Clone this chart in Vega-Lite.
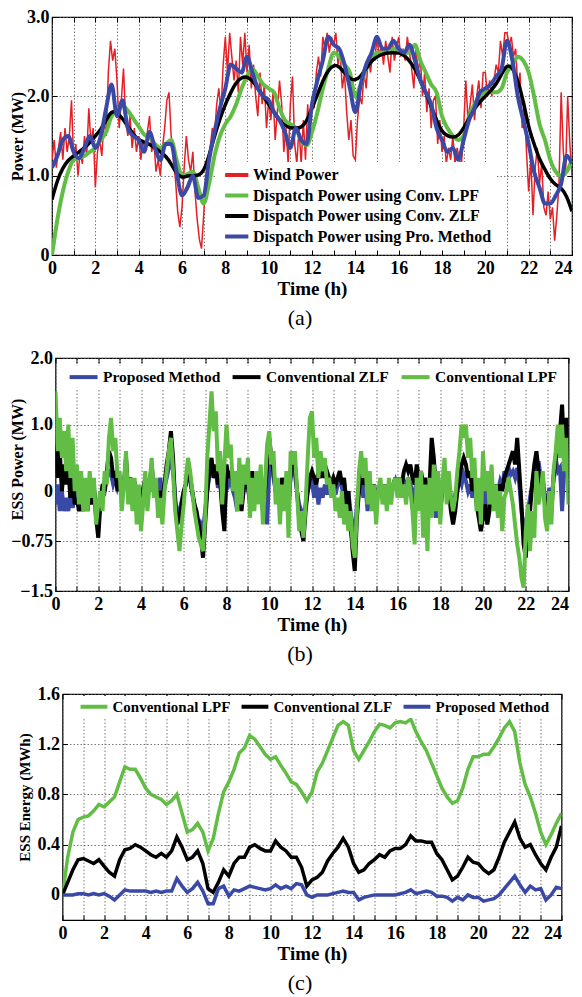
{
"$schema": "https://vega.github.io/schema/vega-lite/v6.json",
"background": "white",
"padding": {"left": 8, "right": 0, "top": 7, "bottom": 0},
"spacing": 103,
"center": true,
"bounds": "flush",
"resolve": {"scale": {"color": "independent"}, "legend": {"color": "independent"}},
"config": {
 "font": "Liberation Serif",
 "view": {"stroke": "#000", "strokeWidth": 1.2},
 "axis": {"labelFont": "Liberation Serif", "labelFontWeight": "bold", "labelFontSize": 18, "labelColor": "#000", "titleFont": "Liberation Serif", "titleFontWeight": "bold", "titleColor": "#000", "titleFontSize": 19, "domain": false, "ticks": true, "tickColor": "#000", "tickSize": -5, "tickWidth": 1, "gridColor": "#555", "gridDash": [1.5, 2], "gridWidth": 0.8, "labelFlush": false, "labelOverlap": false, "titlePadding": 2},
 "axisX": {"labelPadding": 9, "labelAlign": {"expr": "datum.value == 24 ? 'right' : 'center'"}},
 "axisY": {"labelPadding": 7, "titleBaseline": "middle"},
 "legend": {"labelFont": "Liberation Serif", "labelFontWeight": "bold", "labelColor": "#000", "symbolStrokeWidth": 4, "title": null, "labelLimit": 500},
 "title": {"font": "Liberation Serif", "fontSize": 22, "fontWeight": "normal", "color": "#000"}
},
"datasets": {
"aw": [
{"t":0,"v":1.2},{"t":0.1,"v":1.45},{"t":0.2,"v":1.1},{"t":0.3,"v":1.35},{"t":0.4,"v":1.55},{"t":0.5,"v":1.2},{"t":0.6,"v":1.6},{"t":0.7,"v":1.3},{"t":0.8,"v":1.5},{"t":0.9,"v":1.95},
{"t":1,"v":1.2},{"t":1.1,"v":1.4},{"t":1.2,"v":1.0},{"t":1.3,"v":1.3},{"t":1.4,"v":1.15},{"t":1.5,"v":1.5},{"t":1.6,"v":1.25},{"t":1.7,"v":1.85},{"t":1.8,"v":1.4},{"t":1.9,"v":1.6},
{"t":2,"v":0.85},{"t":2.1,"v":1.3},{"t":2.2,"v":1.45},{"t":2.3,"v":1.25},{"t":2.4,"v":1.7},{"t":2.5,"v":1.5},{"t":2.6,"v":2.3},{"t":2.7,"v":2.7},{"t":2.8,"v":2.45},{"t":2.9,"v":2.6},
{"t":3,"v":2.2},{"t":3.1,"v":1.6},{"t":3.2,"v":1.95},{"t":3.3,"v":2.35},{"t":3.4,"v":1.7},{"t":3.5,"v":1.5},{"t":3.6,"v":1.75},{"t":3.7,"v":1.35},{"t":3.8,"v":1.6},{"t":3.9,"v":1.3},
{"t":4,"v":1.5},{"t":4.1,"v":1.2},{"t":4.2,"v":1.45},{"t":4.3,"v":1.3},{"t":4.4,"v":1.55},{"t":4.5,"v":1.75},{"t":4.6,"v":1.3},{"t":4.7,"v":1.45},{"t":4.8,"v":1.05},{"t":4.9,"v":1.2},
{"t":5,"v":1.0},{"t":5.1,"v":1.35},{"t":5.2,"v":1.6},{"t":5.3,"v":1.95},{"t":5.4,"v":2.05},{"t":5.5,"v":1.5},{"t":5.6,"v":1.2},{"t":5.7,"v":0.95},{"t":5.8,"v":0.55},{"t":5.9,"v":0.35},
{"t":6,"v":0.6},{"t":6.1,"v":1.1},{"t":6.2,"v":1.5},{"t":6.3,"v":1.2},{"t":6.4,"v":1.05},{"t":6.5,"v":1.3},{"t":6.6,"v":0.8},{"t":6.7,"v":0.45},{"t":6.8,"v":0.2},{"t":6.9,"v":0.08},
{"t":7,"v":0.5},{"t":7.1,"v":0.95},{"t":7.2,"v":1.2},{"t":7.3,"v":1.35},{"t":7.4,"v":1.6},{"t":7.5,"v":1.5},{"t":7.6,"v":1.9},{"t":7.7,"v":2.1},{"t":7.8,"v":1.8},{"t":7.9,"v":2.4},
{"t":8,"v":2.75},{"t":8.1,"v":2.3},{"t":8.2,"v":2.8},{"t":8.3,"v":2.5},{"t":8.4,"v":2.2},{"t":8.5,"v":2.45},{"t":8.6,"v":2.05},{"t":8.7,"v":2.75},{"t":8.8,"v":2.4},{"t":8.9,"v":2.8},
{"t":9,"v":2.3},{"t":9.1,"v":2.65},{"t":9.2,"v":2.1},{"t":9.3,"v":2.4},{"t":9.4,"v":2.0},{"t":9.5,"v":1.75},{"t":9.6,"v":2.3},{"t":9.7,"v":1.9},{"t":9.8,"v":2.15},{"t":9.9,"v":1.6},
{"t":10,"v":1.95},{"t":10.1,"v":1.7},{"t":10.2,"v":2.05},{"t":10.3,"v":1.45},{"t":10.4,"v":1.8},{"t":10.5,"v":2.2},{"t":10.6,"v":1.9},{"t":10.7,"v":1.3},{"t":10.8,"v":1.6},{"t":10.9,"v":1.15},
{"t":11,"v":1.9},{"t":11.1,"v":2.25},{"t":11.2,"v":1.4},{"t":11.3,"v":1.15},{"t":11.4,"v":1.6},{"t":11.5,"v":1.15},{"t":11.6,"v":1.7},{"t":11.7,"v":1.2},{"t":11.8,"v":1.9},{"t":11.9,"v":1.5},
{"t":12,"v":2.0},{"t":12.1,"v":1.85},{"t":12.2,"v":2.3},{"t":12.3,"v":2.5},{"t":12.4,"v":2.25},{"t":12.5,"v":2.75},{"t":12.6,"v":2.6},{"t":12.7,"v":2.8},{"t":12.8,"v":2.55},{"t":12.9,"v":2.75},
{"t":13,"v":2.65},{"t":13.1,"v":2.8},{"t":13.2,"v":2.4},{"t":13.3,"v":2.55},{"t":13.4,"v":2.1},{"t":13.5,"v":2.3},{"t":13.6,"v":1.8},{"t":13.7,"v":1.45},{"t":13.8,"v":1.7},{"t":13.9,"v":1.25},
{"t":14,"v":1.2},{"t":14.1,"v":1.7},{"t":14.2,"v":2.0},{"t":14.3,"v":1.9},{"t":14.4,"v":2.3},{"t":14.5,"v":2.1},{"t":14.6,"v":2.5},{"t":14.7,"v":2.3},{"t":14.8,"v":2.55},{"t":14.9,"v":2.45},
{"t":15,"v":2.75},{"t":15.1,"v":2.5},{"t":15.2,"v":2.65},{"t":15.3,"v":2.4},{"t":15.4,"v":2.7},{"t":15.5,"v":2.5},{"t":15.6,"v":2.3},{"t":15.7,"v":2.75},{"t":15.8,"v":2.45},{"t":15.9,"v":2.6},
{"t":16,"v":2.75},{"t":16.1,"v":2.5},{"t":16.2,"v":2.6},{"t":16.3,"v":2.45},{"t":16.4,"v":2.75},{"t":16.5,"v":2.55},{"t":16.6,"v":2.35},{"t":16.7,"v":2.1},{"t":16.8,"v":2.6},{"t":16.9,"v":2.3},
{"t":17,"v":2.5},{"t":17.1,"v":2.0},{"t":17.2,"v":2.3},{"t":17.3,"v":1.8},{"t":17.4,"v":2.1},{"t":17.5,"v":1.6},{"t":17.6,"v":1.95},{"t":17.7,"v":2.0},{"t":17.8,"v":1.4},{"t":17.9,"v":1.7},
{"t":18,"v":1.3},{"t":18.1,"v":1.5},{"t":18.2,"v":1.15},{"t":18.3,"v":1.35},{"t":18.4,"v":1.2},{"t":18.5,"v":1.5},{"t":18.6,"v":1.15},{"t":18.7,"v":1.35},{"t":18.8,"v":1.2},{"t":18.9,"v":1.15},
{"t":19,"v":1.6},{"t":19.1,"v":2.2},{"t":19.2,"v":1.7},{"t":19.3,"v":1.9},{"t":19.4,"v":2.15},{"t":19.5,"v":1.7},{"t":19.6,"v":2.0},{"t":19.7,"v":2.2},{"t":19.8,"v":1.85},{"t":19.9,"v":2.3},
{"t":20,"v":2.3},{"t":20.1,"v":2.0},{"t":20.2,"v":2.2},{"t":20.3,"v":2.0},{"t":20.4,"v":2.2},{"t":20.5,"v":2.4},{"t":20.6,"v":2.3},{"t":20.7,"v":2.7},{"t":20.8,"v":2.5},{"t":20.9,"v":2.8},
{"t":21,"v":2.8},{"t":21.1,"v":2.65},{"t":21.2,"v":2.75},{"t":21.3,"v":2.5},{"t":21.4,"v":2.6},{"t":21.5,"v":2.1},{"t":21.6,"v":2.3},{"t":21.7,"v":1.6},{"t":21.8,"v":1.9},{"t":21.9,"v":1.3},
{"t":22,"v":0.8},{"t":22.1,"v":1.2},{"t":22.2,"v":0.5},{"t":22.3,"v":1.1},{"t":22.4,"v":1.35},{"t":22.5,"v":0.9},{"t":22.6,"v":1.15},{"t":22.7,"v":0.6},{"t":22.8,"v":0.5},{"t":22.9,"v":0.8},
{"t":23,"v":0.45},{"t":23.1,"v":0.6},{"t":23.2,"v":0.18},{"t":23.3,"v":0.5},{"t":23.4,"v":0.9},{"t":23.5,"v":2.05},{"t":23.6,"v":1.3},{"t":23.7,"v":1.0},{"t":23.8,"v":2.0},{"t":23.9,"v":1.4},
{"t":24,"v":1.0}
],
"ad": [
{"t":0,"l":0,"z":0.7,"p":1.1},{"t":0.25,"l":0.45,"z":0.95,"p":1.25},{"t":0.5,"l":0.8,"z":1.1,"p":1.45},{"t":0.75,"l":1.05,"z":1.2,"p":1.5},
{"t":1,"l":1.2,"z":1.25,"p":1.3},{"t":1.25,"l":1.22,"z":1.3,"p":1.22},{"t":1.5,"l":1.25,"z":1.35,"p":1.35},{"t":1.75,"l":1.3,"z":1.42,"p":1.5},
{"t":2,"l":1.35,"z":1.5,"p":1.35},{"t":2.25,"l":1.45,"z":1.58,"p":1.5},{"t":2.5,"l":1.55,"z":1.7,"p":1.85},{"t":2.75,"l":1.75,"z":1.82,"p":2.15},
{"t":3,"l":1.82,"z":1.8,"p":1.75},{"t":3.25,"l":1.88,"z":1.72,"p":1.95},{"t":3.5,"l":1.82,"z":1.62,"p":1.6},{"t":3.75,"l":1.72,"z":1.52,"p":1.5},
{"t":4,"l":1.62,"z":1.45,"p":1.45},{"t":4.25,"l":1.52,"z":1.42,"p":1.3},{"t":4.5,"l":1.48,"z":1.4,"p":1.55},{"t":4.75,"l":1.4,"z":1.35,"p":1.35},
{"t":5,"l":1.35,"z":1.3,"p":1.2},{"t":5.25,"l":1.4,"z":1.25,"p":1.4},{"t":5.5,"l":1.45,"z":1.15,"p":1.4},{"t":5.75,"l":1.2,"z":1.02,"p":1.05},
{"t":6,"l":1.0,"z":0.97,"p":0.75},{"t":6.25,"l":1.02,"z":1.0,"p":0.85},{"t":6.5,"l":1.05,"z":1.0,"p":1.0},{"t":6.75,"l":0.85,"z":1.0,"p":0.72},
{"t":7,"l":0.65,"z":1.05,"p":0.75},{"t":7.25,"l":0.9,"z":1.25,"p":1.2},{"t":7.5,"l":1.25,"z":1.5,"p":1.55},{"t":7.75,"l":1.5,"z":1.72,"p":1.85},
{"t":8,"l":1.65,"z":1.9,"p":2.1},{"t":8.25,"l":1.75,"z":2.05,"p":2.4},{"t":8.5,"l":1.9,"z":2.18,"p":2.35},{"t":8.75,"l":2.1,"z":2.24,"p":2.3},
{"t":9,"l":2.25,"z":2.25,"p":2.5},{"t":9.25,"l":2.35,"z":2.2,"p":2.3},{"t":9.5,"l":2.25,"z":2.1,"p":2.1},{"t":9.75,"l":2.15,"z":2.0,"p":2.0},
{"t":10,"l":2.1,"z":1.9,"p":1.95},{"t":10.25,"l":2.05,"z":1.8,"p":1.8},{"t":10.5,"l":1.85,"z":1.7,"p":1.7},{"t":10.75,"l":1.7,"z":1.63,"p":1.55},
{"t":11,"l":1.65,"z":1.6,"p":1.35},{"t":11.25,"l":1.6,"z":1.6,"p":1.6},{"t":11.5,"l":1.45,"z":1.6,"p":1.45},{"t":11.75,"l":1.38,"z":1.68,"p":1.4},
{"t":12,"l":1.55,"z":1.85,"p":1.9},{"t":12.25,"l":1.8,"z":2.02,"p":2.2},{"t":12.5,"l":2.1,"z":2.2,"p":2.45},{"t":12.75,"l":2.35,"z":2.33,"p":2.75},
{"t":13,"l":2.55,"z":2.4,"p":2.65},{"t":13.25,"l":2.5,"z":2.38,"p":2.6},{"t":13.5,"l":2.4,"z":2.3,"p":2.4},{"t":13.75,"l":2.3,"z":2.22,"p":2.1},
{"t":14,"l":2.0,"z":2.2,"p":1.8},{"t":14.25,"l":2.15,"z":2.25,"p":2.15},{"t":14.5,"l":2.35,"z":2.35,"p":2.4},{"t":14.75,"l":2.45,"z":2.45,"p":2.55},
{"t":15,"l":2.55,"z":2.5,"p":2.75},{"t":15.25,"l":2.55,"z":2.53,"p":2.6},{"t":15.5,"l":2.6,"z":2.55,"p":2.6},{"t":15.75,"l":2.6,"z":2.55,"p":2.7},
{"t":16,"l":2.6,"z":2.55,"p":2.6},{"t":16.25,"l":2.55,"z":2.52,"p":2.55},{"t":16.5,"l":2.55,"z":2.45,"p":2.65},{"t":16.75,"l":2.65,"z":2.35,"p":2.45},
{"t":17,"l":2.45,"z":2.2,"p":2.2},{"t":17.25,"l":2.3,"z":2.05,"p":2.05},{"t":17.5,"l":2.15,"z":1.87,"p":1.9},{"t":17.75,"l":2.05,"z":1.7,"p":1.6},
{"t":18,"l":1.75,"z":1.55,"p":1.45},{"t":18.25,"l":1.6,"z":1.5,"p":1.3},{"t":18.5,"l":1.5,"z":1.48,"p":1.35},{"t":18.75,"l":1.45,"z":1.5,"p":1.2},
{"t":19,"l":1.5,"z":1.6,"p":1.45},{"t":19.25,"l":1.75,"z":1.72,"p":1.7},{"t":19.5,"l":1.9,"z":1.85,"p":1.85},{"t":19.75,"l":2.0,"z":1.93,"p":2.05},
{"t":20,"l":2.05,"z":2.0,"p":2.1},{"t":20.25,"l":2.05,"z":2.07,"p":2.15},{"t":20.5,"l":2.05,"z":2.15,"p":2.25},{"t":20.75,"l":2.1,"z":2.28,"p":2.35},
{"t":21,"l":2.3,"z":2.4,"p":2.7},{"t":21.25,"l":2.4,"z":2.37,"p":2.45},{"t":21.5,"l":2.5,"z":2.2,"p":2.0},{"t":21.75,"l":2.45,"z":1.95,"p":1.7},
{"t":22,"l":2.3,"z":1.6,"p":1.4},{"t":22.25,"l":2.0,"z":1.4,"p":1.05},{"t":22.5,"l":1.65,"z":1.2,"p":0.85},{"t":22.75,"l":1.45,"z":1.08,"p":0.65},
{"t":23,"l":1.2,"z":0.95,"p":0.65},{"t":23.25,"l":1.05,"z":0.88,"p":0.75},{"t":23.5,"l":1.0,"z":0.85,"p":0.9},{"t":23.75,"l":1.05,"z":0.75,"p":1.25},
{"t":24,"l":1.2,"z":0.55,"p":1.15}
],
"b": [
{"t":0,"p":-0.2,"z":0.7,"l":1.5},{"t":0.1,"p":0.1,"z":0.2,"l":0.6},{"t":0.2,"p":-0.3,"z":0.6,"l":1.1},{"t":0.3,"p":0.0,"z":0.0,"l":0.5},{"t":0.4,"p":-0.3,"z":0.4,"l":0.9},{"t":0.5,"p":-0.1,"z":0.1,"l":0.3},{"t":0.6,"p":-0.3,"z":0.3,"l":1.0},{"t":0.7,"p":0.0,"z":-0.1,"l":0.2},{"t":0.8,"p":-0.25,"z":0.2,"l":0.8},{"t":0.9,"p":-0.1,"z":-0.2,"l":0.0},
{"t":1,"p":0.0,"z":-0.1,"l":0.4},{"t":1.1,"p":-0.2,"z":-0.3,"l":-0.2},{"t":1.2,"p":0.05,"z":-0.1,"l":0.3},{"t":1.3,"p":-0.2,"z":-0.3,"l":-0.3},{"t":1.4,"p":0.0,"z":0.0,"l":0.2},{"t":1.5,"p":-0.15,"z":-0.3,"l":-0.3},{"t":1.6,"p":0.1,"z":0.1,"l":0.3},{"t":1.7,"p":-0.1,"z":-0.2,"l":-0.1},{"t":1.8,"p":0.05,"z":0.0,"l":0.2},{"t":1.9,"p":-0.2,"z":-0.4,"l":-0.5},
{"t":2,"p":-0.3,"z":-0.7,"l":-0.2},{"t":2.1,"p":-0.1,"z":-0.2,"l":0.0},{"t":2.2,"p":0.05,"z":0.1,"l":-0.3},{"t":2.3,"p":0.0,"z":0.0,"l":0.3},{"t":2.4,"p":0.2,"z":0.3,"l":0.1},{"t":2.5,"p":0.3,"z":0.6,"l":0.8},{"t":2.6,"p":0.25,"z":0.5,"l":1.1},{"t":2.7,"p":0.1,"z":0.2,"l":0.6},{"t":2.8,"p":0.2,"z":0.3,"l":0.8},{"t":2.9,"p":0.05,"z":0.0,"l":0.2},
{"t":3,"p":0.15,"z":0.2,"l":0.3},{"t":3.1,"p":-0.05,"z":-0.1,"l":-0.3},{"t":3.2,"p":0.1,"z":0.1,"l":0.1},{"t":3.3,"p":0.3,"z":0.5,"l":0.6},{"t":3.4,"p":0.05,"z":0.0,"l":-0.2},{"t":3.5,"p":0.2,"z":0.2,"l":0.2},{"t":3.6,"p":0.0,"z":-0.1,"l":-0.3},{"t":3.7,"p":0.15,"z":0.1,"l":0.2},{"t":3.8,"p":-0.1,"z":-0.3,"l":-0.5},{"t":3.9,"p":0.05,"z":0.0,"l":0.1},
{"t":4,"p":-0.1,"z":-0.2,"l":-0.6},{"t":4.1,"p":0.05,"z":0.0,"l":-0.2},{"t":4.2,"p":0.15,"z":0.2,"l":0.3},{"t":4.3,"p":-0.05,"z":-0.1,"l":-0.3},{"t":4.4,"p":0.1,"z":0.1,"l":0.1},{"t":4.5,"p":0.25,"z":0.4,"l":0.5},{"t":4.6,"p":0.0,"z":0.0,"l":-0.1},{"t":4.7,"p":0.1,"z":0.1,"l":0.2},{"t":4.8,"p":-0.1,"z":-0.2,"l":-0.4},{"t":4.9,"p":0.2,"z":0.0,"l":-0.1},
{"t":5,"p":-0.05,"z":-0.1,"l":-0.5},{"t":5.1,"p":0.05,"z":0.1,"l":0.0},{"t":5.2,"p":0.2,"z":0.4,"l":0.3},{"t":5.3,"p":0.35,"z":0.6,"l":0.6},{"t":5.4,"p":0.5,"z":0.9,"l":0.8},{"t":5.5,"p":0.3,"z":0.5,"l":0.3},{"t":5.6,"p":-0.1,"z":-0.2,"l":-0.3},{"t":5.7,"p":-0.4,"z":-0.5,"l":-0.6},{"t":5.8,"p":-0.3,"z":-0.4,"l":-0.9},{"t":5.9,"p":-0.15,"z":-0.2,"l":-0.5},
{"t":6,"p":0.0,"z":0.0,"l":-0.2},{"t":6.1,"p":0.1,"z":0.1,"l":0.2},{"t":6.2,"p":0.3,"z":0.4,"l":0.5},{"t":6.3,"p":0.15,"z":0.2,"l":0.3},{"t":6.4,"p":-0.05,"z":0.0,"l":0.0},{"t":6.5,"p":-0.2,"z":-0.2,"l":-0.3},{"t":6.6,"p":-0.4,"z":-0.3,"l":-0.5},{"t":6.7,"p":-0.6,"z":-0.5,"l":-0.7},{"t":6.8,"p":-0.5,"z":-0.7,"l":-0.8},{"t":6.9,"p":-0.6,"z":-1.0,"l":-0.9},
{"t":7,"p":-0.3,"z":-0.5,"l":-0.4},{"t":7.1,"p":0.0,"z":0.0,"l":0.5},{"t":7.2,"p":0.25,"z":0.3,"l":1.0},{"t":7.3,"p":0.4,"z":0.5,"l":1.5},{"t":7.4,"p":0.2,"z":0.2,"l":0.9},{"t":7.5,"p":0.3,"z":0.4,"l":1.2},{"t":7.6,"p":0.05,"z":0.1,"l":0.3},{"t":7.7,"p":0.15,"z":0.2,"l":0.6},{"t":7.8,"p":-0.2,"z":-0.3,"l":-0.2},{"t":7.9,"p":-0.4,"z":-0.6,"l":0.4},
{"t":8,"p":0.2,"z":0.4,"l":1.0},{"t":8.1,"p":0.1,"z":0.2,"l":0.5},{"t":8.2,"p":0.2,"z":0.3,"l":0.7},{"t":8.3,"p":0.0,"z":0.1,"l":0.0},{"t":8.4,"p":-0.1,"z":0.2,"l":0.3},{"t":8.5,"p":-0.3,"z":-0.1,"l":-0.3},{"t":8.6,"p":0.0,"z":0.1,"l":0.5},{"t":8.7,"p":-0.2,"z":-0.3,"l":-0.2},{"t":8.8,"p":0.05,"z":0.0,"l":0.4},{"t":8.9,"p":0.2,"z":0.3,"l":0.1},
{"t":9,"p":0.05,"z":0.1,"l":0.5},{"t":9.1,"p":-0.15,"z":-0.2,"l":-0.4},{"t":9.2,"p":0.2,"z":0.3,"l":0.2},{"t":9.3,"p":0.0,"z":0.0,"l":-0.3},{"t":9.4,"p":0.1,"z":0.2,"l":0.3},{"t":9.5,"p":-0.05,"z":-0.1,"l":-0.2},{"t":9.6,"p":0.3,"z":0.1,"l":0.4},{"t":9.7,"p":-0.2,"z":-0.3,"l":-0.5},{"t":9.8,"p":-0.1,"z":0.0,"l":0.1},{"t":9.9,"p":-0.5,"z":0.4,"l":0.7},
{"t":10,"p":0.3,"z":0.8,"l":0.9},{"t":10.1,"p":0.4,"z":0.5,"l":0.4},{"t":10.2,"p":0.2,"z":0.3,"l":0.6},{"t":10.3,"p":0.0,"z":0.0,"l":-0.2},{"t":10.4,"p":0.1,"z":0.1,"l":0.2},{"t":10.5,"p":-0.1,"z":-0.2,"l":-0.5},{"t":10.6,"p":0.15,"z":0.2,"l":0.1},{"t":10.7,"p":-0.05,"z":-0.1,"l":-0.3},{"t":10.8,"p":0.1,"z":0.2,"l":0.3},{"t":10.9,"p":-0.2,"z":-0.3,"l":-0.7},
{"t":11,"p":0.2,"z":0.3,"l":0.6},{"t":11.1,"p":0.35,"z":0.6,"l":0.4},{"t":11.2,"p":0.25,"z":0.4,"l":0.6},{"t":11.3,"p":0.0,"z":0.0,"l":0.0},{"t":11.4,"p":-0.2,"z":-0.4,"l":-0.6},{"t":11.5,"p":-0.3,"z":-0.6,"l":-0.3},{"t":11.6,"p":-0.4,"z":-0.75,"l":-0.7},{"t":11.7,"p":-0.2,"z":-0.3,"l":-0.2},{"t":11.8,"p":0.0,"z":0.0,"l":0.5},{"t":11.9,"p":0.1,"z":0.2,"l":1.1},
{"t":12,"p":0.15,"z":0.3,"l":1.2},{"t":12.1,"p":-0.1,"z":0.2,"l":0.5},{"t":12.2,"p":0.1,"z":0.1,"l":0.8},{"t":12.3,"p":-0.2,"z":0.3,"l":0.2},{"t":12.4,"p":0.05,"z":0.2,"l":0.6},{"t":12.5,"p":-0.1,"z":0.4,"l":0.3},{"t":12.6,"p":0.1,"z":0.2,"l":0.5},{"t":12.7,"p":-0.05,"z":0.3,"l":0.1},{"t":12.8,"p":0.1,"z":0.2,"l":0.2},{"t":12.9,"p":0.0,"z":0.1,"l":-0.1},
{"t":13,"p":0.1,"z":0.2,"l":0.1},{"t":13.1,"p":-0.05,"z":0.1,"l":-0.3},{"t":13.2,"p":0.1,"z":0.2,"l":-0.1},{"t":13.3,"p":0.2,"z":0.3,"l":-0.4},{"t":13.4,"p":0.05,"z":0.1,"l":0.0},{"t":13.5,"p":0.15,"z":0.2,"l":-0.5},{"t":13.6,"p":-0.1,"z":-0.2,"l":-0.2},{"t":13.7,"p":0.0,"z":0.0,"l":-0.6},{"t":13.8,"p":-0.3,"z":-0.5,"l":-0.3},{"t":13.9,"p":-0.5,"z":-0.9,"l":-0.8},
{"t":14,"p":-0.7,"z":-1.2,"l":-1.0},{"t":14.1,"p":-0.2,"z":-0.4,"l":-0.3},{"t":14.2,"p":0.05,"z":0.0,"l":0.3},{"t":14.3,"p":0.2,"z":0.3,"l":0.6},{"t":14.4,"p":-0.1,"z":0.1,"l":0.2},{"t":14.5,"p":0.1,"z":0.2,"l":0.5},{"t":14.6,"p":-0.3,"z":0.0,"l":-0.2},{"t":14.7,"p":0.0,"z":0.1,"l":0.3},{"t":14.8,"p":-0.2,"z":-0.1,"l":-0.3},{"t":14.9,"p":0.1,"z":0.1,"l":0.1},
{"t":15,"p":-0.1,"z":-0.2,"l":-0.5},{"t":15.1,"p":0.0,"z":0.0,"l":0.0},{"t":15.2,"p":0.1,"z":0.1,"l":0.2},{"t":15.3,"p":-0.1,"z":-0.1,"l":-0.2},{"t":15.4,"p":0.05,"z":0.1,"l":0.1},{"t":15.5,"p":-0.15,"z":-0.2,"l":-0.3},{"t":15.6,"p":0.1,"z":0.1,"l":0.2},{"t":15.7,"p":0.0,"z":0.0,"l":-0.2},{"t":15.8,"p":0.05,"z":0.1,"l":0.1},{"t":15.9,"p":0.15,"z":0.2,"l":0.2},
{"t":16,"p":0.0,"z":0.0,"l":-0.1},{"t":16.1,"p":0.2,"z":0.2,"l":0.2},{"t":16.2,"p":0.05,"z":0.1,"l":-0.1},{"t":16.3,"p":0.15,"z":0.3,"l":0.1},{"t":16.4,"p":0.0,"z":0.4,"l":-0.2},{"t":16.5,"p":0.2,"z":0.3,"l":0.2},{"t":16.6,"p":0.1,"z":0.4,"l":0.0},{"t":16.7,"p":0.0,"z":0.2,"l":-0.3},{"t":16.8,"p":-0.2,"z":0.1,"l":-0.8},{"t":16.9,"p":0.3,"z":0.4,"l":0.2},
{"t":17,"p":0.1,"z":0.2,"l":-0.3},{"t":17.1,"p":0.25,"z":0.3,"l":0.3},{"t":17.2,"p":0.0,"z":0.1,"l":-0.7},{"t":17.3,"p":0.15,"z":0.2,"l":0.1},{"t":17.4,"p":-0.1,"z":-0.1,"l":-0.9},{"t":17.5,"p":0.1,"z":0.1,"l":0.2},{"t":17.6,"p":0.3,"z":0.8,"l":-0.4},{"t":17.7,"p":0.2,"z":0.5,"l":0.4},{"t":17.8,"p":-0.4,"z":0.0,"l":-0.3},{"t":17.9,"p":0.05,"z":0.2,"l":0.3},
{"t":18,"p":-0.2,"z":-0.3,"l":-0.5},{"t":18.1,"p":0.05,"z":0.0,"l":0.1},{"t":18.2,"p":0.2,"z":0.2,"l":0.5},{"t":18.3,"p":0.0,"z":0.1,"l":-0.2},{"t":18.4,"p":0.1,"z":0.0,"l":0.3},{"t":18.5,"p":-0.1,"z":-0.3,"l":-0.1},{"t":18.6,"p":-0.2,"z":-0.5,"l":-0.3},{"t":18.7,"p":-0.05,"z":-0.3,"l":-0.1},{"t":18.8,"p":0.1,"z":0.0,"l":0.3},{"t":18.9,"p":0.2,"z":0.2,"l":0.6},
{"t":19,"p":0.1,"z":0.4,"l":1.0},{"t":19.1,"p":0.25,"z":0.5,"l":0.8},{"t":19.2,"p":0.15,"z":0.4,"l":1.0},{"t":19.3,"p":0.0,"z":0.2,"l":0.5},{"t":19.4,"p":0.1,"z":0.3,"l":0.8},{"t":19.5,"p":-0.1,"z":0.0,"l":0.2},{"t":19.6,"p":0.05,"z":0.2,"l":0.5},{"t":19.7,"p":-0.15,"z":-0.2,"l":-0.3},{"t":19.8,"p":-0.25,"z":-0.4,"l":0.2},{"t":19.9,"p":-0.35,"z":-0.6,"l":-0.5},
{"t":20,"p":-0.2,"z":-0.4,"l":0.6},{"t":20.1,"p":0.0,"z":-0.2,"l":0.0},{"t":20.2,"p":-0.3,"z":-0.5,"l":0.3},{"t":20.3,"p":-0.1,"z":-0.3,"l":-0.2},{"t":20.4,"p":0.05,"z":0.0,"l":0.4},{"t":20.5,"p":-0.1,"z":-0.2,"l":-0.3},{"t":20.6,"p":0.1,"z":0.1,"l":0.1},{"t":20.7,"p":0.0,"z":-0.1,"l":-0.4},{"t":20.8,"p":0.15,"z":0.1,"l":0.0},{"t":20.9,"p":0.05,"z":0.0,"l":-0.6},
{"t":21,"p":0.3,"z":0.2,"l":-0.1},{"t":21.1,"p":0.2,"z":0.3,"l":0.0},{"t":21.2,"p":0.35,"z":0.4,"l":0.2},{"t":21.3,"p":0.25,"z":0.5,"l":0.0},{"t":21.4,"p":0.3,"z":0.6,"l":-0.2},{"t":21.5,"p":0.2,"z":0.4,"l":-0.5},{"t":21.6,"p":0.35,"z":0.8,"l":-0.8},{"t":21.7,"p":0.1,"z":0.3,"l":-1.0},{"t":21.8,"p":-0.3,"z":-0.2,"l":-1.3},{"t":21.9,"p":-0.6,"z":-0.8,"l":-1.45},
{"t":22,"p":-0.5,"z":-1.0,"l":-0.6},{"t":22.1,"p":-0.3,"z":-0.5,"l":-0.2},{"t":22.2,"p":-0.1,"z":-0.3,"l":-0.9},{"t":22.3,"p":0.1,"z":0.1,"l":-0.3},{"t":22.4,"p":0.3,"z":0.4,"l":-0.7},{"t":22.5,"p":0.2,"z":0.6,"l":0.3},{"t":22.6,"p":0.45,"z":0.3,"l":-0.2},{"t":22.7,"p":0.2,"z":0.1,"l":0.0},{"t":22.8,"p":0.1,"z":0.2,"l":0.3},{"t":22.9,"p":-0.1,"z":-0.2,"l":-0.4},
{"t":23,"p":-0.2,"z":-0.4,"l":-0.6},{"t":23.1,"p":0.05,"z":0.0,"l":0.0},{"t":23.2,"p":-0.15,"z":-0.3,"l":-0.5},{"t":23.3,"p":0.2,"z":0.2,"l":0.3},{"t":23.4,"p":0.5,"z":0.5,"l":0.6},{"t":23.5,"p":0.3,"z":0.6,"l":1.0},{"t":23.6,"p":0.35,"z":0.9,"l":0.5},{"t":23.7,"p":-0.3,"z":1.3,"l":1.0},{"t":23.8,"p":0.3,"z":0.5,"l":0.3},{"t":23.9,"p":0.5,"z":1.1,"l":0.8},
{"t":24,"p":0.1,"z":0.2,"l":-0.2}
],
"c": [
{"t":0,"l":0.0,"z":0.0,"p":0.0},{"t":0.25,"l":0.3,"z":0.1,"p":0.0},{"t":0.5,"l":0.5,"z":0.2,"p":0.0},{"t":0.75,"l":0.6,"z":0.28,"p":0.01},
{"t":1,"l":0.62,"z":0.29,"p":0.01},{"t":1.25,"l":0.63,"z":0.27,"p":0.0},{"t":1.5,"l":0.67,"z":0.25,"p":0.01},{"t":1.75,"l":0.72,"z":0.28,"p":0.0},
{"t":2,"l":0.7,"z":0.23,"p":0.01},{"t":2.25,"l":0.74,"z":0.18,"p":-0.01},{"t":2.5,"l":0.78,"z":0.15,"p":-0.04},{"t":2.75,"l":0.9,"z":0.28,"p":0.0},
{"t":3,"l":1.02,"z":0.36,"p":0.04},{"t":3.25,"l":1.0,"z":0.37,"p":0.03},{"t":3.5,"l":1.0,"z":0.4,"p":0.03},{"t":3.75,"l":0.93,"z":0.38,"p":0.03},
{"t":4,"l":0.85,"z":0.35,"p":0.03},{"t":4.25,"l":0.8,"z":0.32,"p":0.02},{"t":4.5,"l":0.78,"z":0.3,"p":0.03},{"t":4.75,"l":0.76,"z":0.33,"p":0.02},
{"t":5,"l":0.72,"z":0.3,"p":0.03},{"t":5.25,"l":0.75,"z":0.35,"p":0.03},{"t":5.5,"l":0.8,"z":0.46,"p":0.13},{"t":5.75,"l":0.65,"z":0.38,"p":0.07},
{"t":6,"l":0.5,"z":0.28,"p":0.02},{"t":6.25,"l":0.52,"z":0.3,"p":0.05},{"t":6.5,"l":0.57,"z":0.35,"p":0.1},{"t":6.75,"l":0.5,"z":0.25,"p":0.03},
{"t":7,"l":0.35,"z":0.05,"p":-0.07},{"t":7.25,"l":0.45,"z":0.02,"p":-0.07},{"t":7.5,"l":0.65,"z":0.1,"p":0.05},{"t":7.75,"l":0.82,"z":0.2,"p":0.07},
{"t":8,"l":0.9,"z":0.15,"p":-0.01},{"t":8.25,"l":1.0,"z":0.25,"p":0.04},{"t":8.5,"l":1.13,"z":0.3,"p":0.03},{"t":8.75,"l":1.17,"z":0.3,"p":0.05},
{"t":9,"l":1.27,"z":0.38,"p":0.07},{"t":9.25,"l":1.24,"z":0.4,"p":0.06},{"t":9.5,"l":1.18,"z":0.37,"p":0.05},{"t":9.75,"l":1.12,"z":0.35,"p":0.04},
{"t":10,"l":1.08,"z":0.35,"p":0.05},{"t":10.25,"l":1.1,"z":0.43,"p":0.08},{"t":10.5,"l":1.03,"z":0.38,"p":0.05},{"t":10.75,"l":0.97,"z":0.35,"p":0.07},
{"t":11,"l":0.9,"z":0.3,"p":0.05},{"t":11.25,"l":0.88,"z":0.3,"p":0.09},{"t":11.5,"l":0.82,"z":0.22,"p":0.08},{"t":11.75,"l":0.75,"z":0.07,"p":0.0},
{"t":12,"l":0.82,"z":0.12,"p":-0.02},{"t":12.25,"l":0.98,"z":0.14,"p":0.0},{"t":12.5,"l":1.05,"z":0.18,"p":0.0},{"t":12.75,"l":1.15,"z":0.27,"p":0.0},
{"t":13,"l":1.25,"z":0.33,"p":0.01},{"t":13.25,"l":1.35,"z":0.38,"p":0.02},{"t":13.5,"l":1.38,"z":0.45,"p":0.03},{"t":13.75,"l":1.35,"z":0.38,"p":0.02},
{"t":14,"l":1.15,"z":0.25,"p":0.02},{"t":14.25,"l":1.08,"z":0.18,"p":-0.04},{"t":14.5,"l":1.15,"z":0.2,"p":-0.02},{"t":14.75,"l":1.22,"z":0.25,"p":-0.01},
{"t":15,"l":1.3,"z":0.28,"p":0.0},{"t":15.25,"l":1.36,"z":0.32,"p":0.0},{"t":15.5,"l":1.35,"z":0.3,"p":0.0},{"t":15.75,"l":1.33,"z":0.35,"p":0.0},
{"t":16,"l":1.37,"z":0.37,"p":0.0},{"t":16.25,"l":1.38,"z":0.37,"p":0.01},{"t":16.5,"l":1.37,"z":0.4,"p":0.02},{"t":16.75,"l":1.4,"z":0.47,"p":0.04},
{"t":17,"l":1.3,"z":0.43,"p":0.01},{"t":17.25,"l":1.22,"z":0.43,"p":0.02},{"t":17.5,"l":1.15,"z":0.42,"p":0.03},{"t":17.75,"l":1.05,"z":0.42,"p":0.02},
{"t":18,"l":0.95,"z":0.33,"p":-0.01},{"t":18.25,"l":0.85,"z":0.28,"p":-0.01},{"t":18.5,"l":0.78,"z":0.2,"p":-0.02},{"t":18.75,"l":0.73,"z":0.12,"p":-0.05},
{"t":19,"l":0.75,"z":0.15,"p":-0.02},{"t":19.25,"l":0.85,"z":0.22,"p":-0.04},{"t":19.5,"l":1.0,"z":0.3,"p":0.0},{"t":19.75,"l":1.1,"z":0.26,"p":-0.02},
{"t":20,"l":1.1,"z":0.25,"p":-0.02},{"t":20.25,"l":1.12,"z":0.2,"p":-0.05},{"t":20.5,"l":1.12,"z":0.17,"p":-0.04},{"t":20.75,"l":1.18,"z":0.2,"p":-0.03},
{"t":21,"l":1.25,"z":0.3,"p":0.0},{"t":21.25,"l":1.33,"z":0.42,"p":0.05},{"t":21.5,"l":1.38,"z":0.5,"p":0.1},{"t":21.75,"l":1.3,"z":0.58,"p":0.15},
{"t":22,"l":1.05,"z":0.45,"p":0.08},{"t":22.25,"l":0.88,"z":0.38,"p":0.02},{"t":22.5,"l":0.78,"z":0.4,"p":0.07},{"t":22.75,"l":0.65,"z":0.32,"p":0.04},
{"t":23,"l":0.5,"z":0.25,"p":0.05},{"t":23.25,"l":0.4,"z":0.2,"p":-0.04},{"t":23.5,"l":0.48,"z":0.3,"p":0.0},{"t":23.75,"l":0.57,"z":0.38,"p":0.06},
{"t":24,"l":0.65,"z":0.55,"p":0.05}
]
},
"vconcat": [
{
 "width": 520, "height": 238,
 "title": {"text": "(a)", "orient": "bottom", "offset": 10, "dx": -12},
 "layer": [
  {"data": {"name": "aw"}, "mark": {"type": "line", "strokeWidth": 1.5, "clip": true},
   "encoding": {
    "x": {"field": "t", "type": "quantitative", "scale": {"domain": [0, 24], "nice": false, "zero": false},
          "axis": {"orient": "bottom", "values": [0,1,2,3,4,5,6,7,8,9,10,11,12,13,14,15,16,17,18,19,20,21,22,23,24], "labelExpr": "datum.value % 2 ? '' : datum.label", "title": "Time (h)", "grid": true}},
    "y": {"field": "v", "type": "quantitative", "scale": {"domain": [0, 3], "nice": false},
          "axis": {"orient": "left", "values": [0,1,2,3], "labelExpr": "datum.value == 0 ? '0' : format(datum.value, '.1f')", "title": "Power (MW)", "titleFontSize": 16, "titleX": -35, "labelPadding": 8, "grid": true}},
    "color": {"datum": "Wind Power",
      "scale": {"domain": ["Wind Power", "Dispatch Power using Conv. LPF", "Dispatch Power using Conv. ZLF", "Dispatch Power using Pro. Method"], "range": ["#e41f26", "#62bd45", "#000000", "#3a49a6"]},
      "legend": {"orient": "none", "legendX": 164, "legendY": 145, "direction": "vertical", "fillColor": "white", "padding": 5, "symbolType": "M-1,0H5", "symbolSize": 60, "symbolStrokeWidth": 4, "labelOffset": 16, "labelFontSize": 16, "rowPadding": 4.5}}
   }},
  {"data": {"name": "ad"}, "mark": {"type": "line", "strokeWidth": 4, "interpolate": "monotone", "clip": true},
   "encoding": {
    "x": {"field": "t", "type": "quantitative", "axis": {"orient": "top", "values": [0,1,2,3,4,5,6,7,8,9,10,11,12,13,14,15,16,17,18,19,20,21,22,23,24], "labels": false, "title": null, "grid": false}},
    "y": {"field": "l", "type": "quantitative", "axis": {"orient": "right", "values": [0,1,2,3], "labels": false, "title": null, "grid": false}},
    "color": {"datum": "Dispatch Power using Conv. LPF"}
   }},
  {"data": {"name": "ad"}, "mark": {"type": "line", "strokeWidth": 3.5, "interpolate": "basis", "clip": true},
   "encoding": {
    "x": {"field": "t", "type": "quantitative", "axis": null},
    "y": {"field": "z", "type": "quantitative", "axis": null},
    "color": {"datum": "Dispatch Power using Conv. ZLF"}
   }},
  {"data": {"name": "ad"}, "mark": {"type": "line", "strokeWidth": 4, "interpolate": "monotone", "clip": true},
   "encoding": {
    "x": {"field": "t", "type": "quantitative", "axis": null},
    "y": {"field": "p", "type": "quantitative", "axis": null},
    "color": {"datum": "Dispatch Power using Pro. Method"}
   }}
 ]
},
{
 "width": 513, "height": 233,
 "title": {"text": "(b)", "orient": "bottom", "offset": 10, "dx": -12},
 "data": {"name": "b"},
 "layer": [
  {"mark": {"type": "line", "strokeWidth": 4, "clip": true},
   "encoding": {
    "x": {"field": "t", "type": "quantitative", "scale": {"domain": [0, 24], "nice": false, "zero": false},
          "axis": {"orient": "bottom", "values": [0,1,2,3,4,5,6,7,8,9,10,11,12,13,14,15,16,17,18,19,20,21,22,23,24], "labelExpr": "datum.value % 2 ? '' : datum.label", "title": "Time (h)", "grid": true}},
    "y": {"field": "p", "type": "quantitative", "scale": {"domain": [-1.5, 2], "nice": false, "zero": false},
          "axis": {"orient": "left", "values": [-1.5,-0.75,0,1,2], "labelExpr": "datum.value == 0 ? '0' : (datum.value == -0.75 ? '\u22120.75' : format(datum.value, '.1f'))", "title": "ESS Power (MW)", "titleFontSize": 16, "titleX": -38, "titleY": 101, "labelPadding": 8, "grid": true}},
    "color": {"datum": "Proposed Method",
      "scale": {"domain": ["Proposed Method", "Conventional ZLF", "Conventional LPF"], "range": ["#3a49a6", "#000000", "#62bd45"]},
      "legend": {"orient": "none", "legendX": 8, "legendY": 8, "direction": "horizontal", "fillColor": "white", "padding": 3, "symbolType": "M-1,0H5", "symbolSize": 87, "symbolStrokeWidth": 4, "labelOffset": 21, "labelFontSize": 15.5, "columnPadding": 4}}
   }},
  {"mark": {"type": "line", "strokeWidth": 4, "clip": true},
   "encoding": {
    "x": {"field": "t", "type": "quantitative", "axis": {"orient": "top", "values": [0,1,2,3,4,5,6,7,8,9,10,11,12,13,14,15,16,17,18,19,20,21,22,23,24], "labels": false, "title": null, "grid": false}},
    "y": {"field": "z", "type": "quantitative", "axis": {"orient": "right", "values": [-1.5,-0.75,0,1,2], "labels": false, "title": null, "grid": false}},
    "color": {"datum": "Conventional ZLF"}
   }},
  {"mark": {"type": "line", "strokeWidth": 4, "clip": true},
   "encoding": {
    "x": {"field": "t", "type": "quantitative", "axis": null},
    "y": {"field": "l", "type": "quantitative", "axis": null},
    "color": {"datum": "Conventional LPF"}
   }}
 ]
},
{
 "width": 499, "height": 226,
 "title": {"text": "(c)", "orient": "bottom", "offset": 10, "dx": -12},
 "data": {"name": "c"},
 "layer": [
  {"mark": {"type": "line", "strokeWidth": 3.5, "clip": true},
   "encoding": {
    "x": {"field": "t", "type": "quantitative", "scale": {"domain": [0, 24], "nice": false, "zero": false},
          "axis": {"orient": "bottom", "values": [0,1,2,3,4,5,6,7,8,9,10,11,12,13,14,15,16,17,18,19,20,21,22,23,24], "labelExpr": "datum.value % 2 ? '' : datum.label", "title": "Time (h)", "grid": true}},
    "y": {"field": "l", "type": "quantitative", "scale": {"domain": [-0.2, 1.6], "nice": false, "zero": false},
          "axis": {"orient": "left", "values": [0,0.4,0.8,1.2,1.6], "labelExpr": "datum.value == 0 ? '0' : format(datum.value, '.1f')", "title": "ESS Energy (MWh)", "titleFontSize": 15, "titleX": -38, "titleY": 103, "labelPadding": 8, "grid": true}},
    "color": {"datum": "Conventional LPF",
      "scale": {"domain": ["Conventional LPF", "Conventional ZLF", "Proposed Method"], "range": ["#62bd45", "#000000", "#3a49a6"]},
      "legend": {"orient": "none", "legendX": 12, "legendY": 2, "direction": "horizontal", "fillColor": "white", "padding": 3, "symbolType": "M-1,0H5", "symbolSize": 80, "symbolStrokeWidth": 4, "labelOffset": 20, "labelFontSize": 15, "columnPadding": 3}}
   }},
  {"mark": {"type": "line", "strokeWidth": 3.5, "clip": true},
   "encoding": {
    "x": {"field": "t", "type": "quantitative", "axis": {"orient": "top", "values": [0,1,2,3,4,5,6,7,8,9,10,11,12,13,14,15,16,17,18,19,20,21,22,23,24], "labels": false, "title": null, "grid": false}},
    "y": {"field": "z", "type": "quantitative", "axis": {"orient": "right", "values": [0,0.4,0.8,1.2,1.6], "labels": false, "title": null, "grid": false}},
    "color": {"datum": "Conventional ZLF"}
   }},
  {"mark": {"type": "line", "strokeWidth": 3.5, "clip": true},
   "encoding": {
    "x": {"field": "t", "type": "quantitative", "axis": null},
    "y": {"field": "p", "type": "quantitative", "axis": null},
    "color": {"datum": "Proposed Method"}
   }}
 ]
}
]
}
